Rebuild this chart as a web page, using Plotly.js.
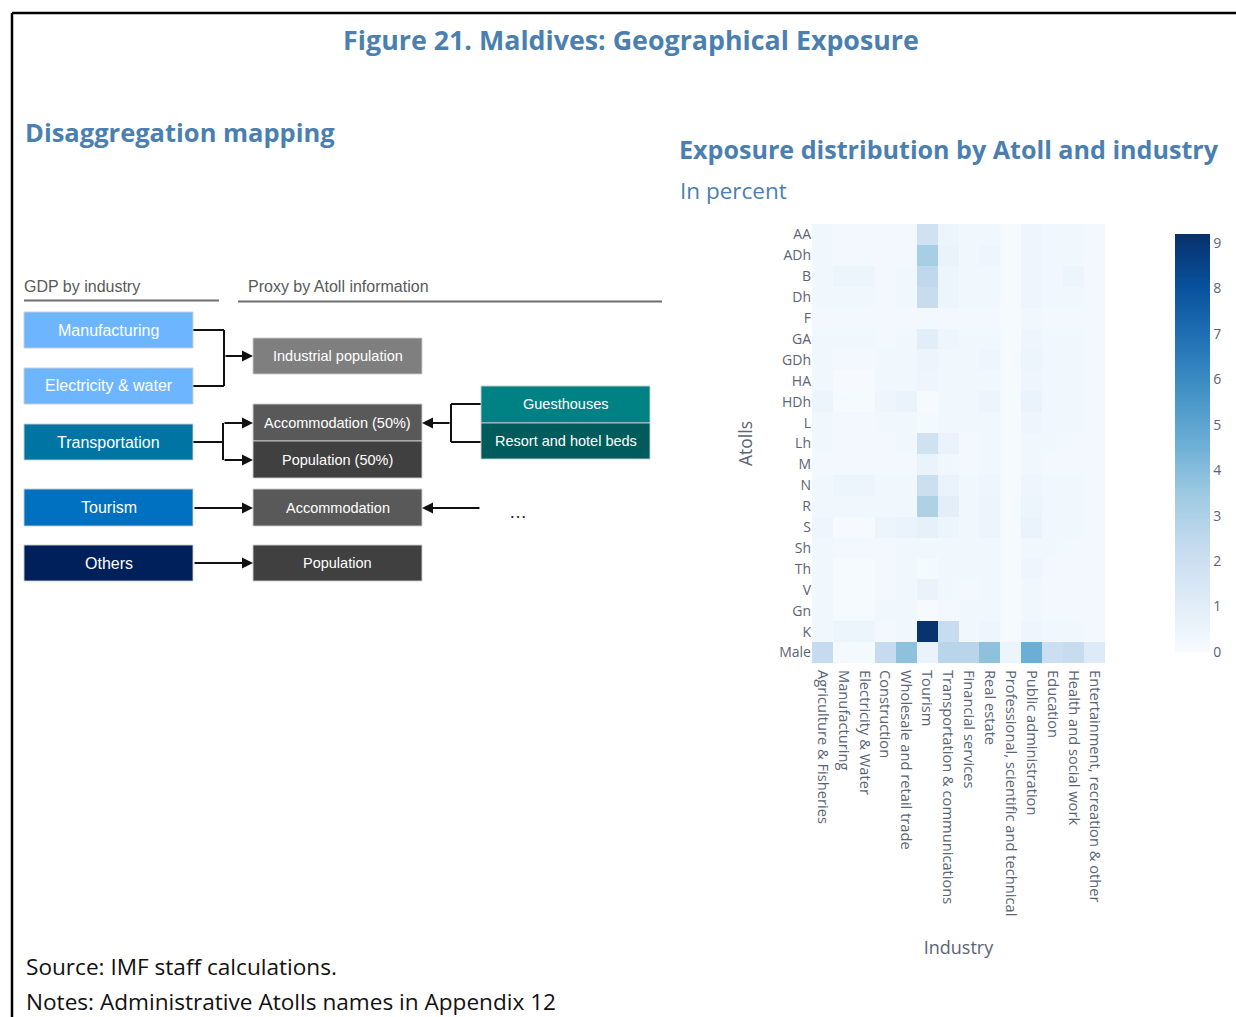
<!DOCTYPE html>
<html>
<head>
<meta charset="utf-8">
<script src="https://cdn.plot.ly/plotly-3.0.1.min.js"></script>
<style>
html,body{margin:0;padding:0;background:#fff;}
#chart{width:1236px;height:1017px;}
</style>
</head>
<body>
<div id="chart"></div>
<script>
// ---------------- DATA ----------------
const atolls = ['AA','ADh','B','Dh','F','GA','GDh','HA','HDh','L','Lh','M','N','R','S','Sh','Th','V','Gn','K','Male'];
const industries = ['Agriculture & Fisheries','Manufacturing','Electricity & Water','Construction','Wholesale and retail trade','Tourism','Transportation & communications','Financial services','Real estate','Professional, scientific and technical','Public administration','Education','Health and social work','Entertainment, recreation & other'];
// rows follow atolls, columns follow industries (percent of total exposure)
const row_AA   = [0.3,0.2,0.2,0.2,0.2,1.8,0.5,0.3,0.3,0.1,0.4,0.3,0.3,0.2];
const row_ADh  = [0.3,0.2,0.2,0.2,0.2,3.2,0.6,0.3,0.4,0.1,0.4,0.3,0.3,0.2];
const row_B    = [0.3,0.5,0.5,0.2,0.3,2.5,0.5,0.3,0.3,0.1,0.4,0.3,0.5,0.2];
const row_Dh   = [0.3,0.3,0.3,0.2,0.3,2.2,0.5,0.3,0.3,0.1,0.4,0.3,0.3,0.2];
const row_F    = [0.2,0.2,0.2,0.2,0.2,0.2,0.2,0.2,0.2,0.1,0.3,0.2,0.2,0.2];
const row_GA   = [0.3,0.3,0.3,0.2,0.3,1.0,0.4,0.3,0.3,0.1,0.4,0.3,0.3,0.2];
const row_GDh  = [0.3,0.2,0.2,0.3,0.3,0.5,0.3,0.3,0.4,0.1,0.5,0.3,0.3,0.2];
const row_HA   = [0.3,0.05,0.05,0.3,0.3,0.4,0.3,0.3,0.3,0.1,0.4,0.3,0.3,0.2];
const row_HDh  = [0.5,0.1,0.1,0.4,0.6,0.05,0.3,0.3,0.5,0.1,0.6,0.3,0.3,0.2];
const row_L    = [0.3,0.2,0.2,0.3,0.3,0.15,0.3,0.3,0.3,0.1,0.4,0.3,0.3,0.2];
const row_Lh   = [0.3,0.2,0.2,0.2,0.3,1.8,0.6,0.2,0.3,0.1,0.3,0.3,0.2,0.2];
const row_M    = [0.2,0.2,0.2,0.2,0.2,0.6,0.3,0.2,0.3,0.1,0.3,0.2,0.2,0.2];
const row_N    = [0.3,0.5,0.5,0.3,0.3,2.0,0.6,0.3,0.4,0.1,0.4,0.3,0.3,0.2];
const row_R    = [0.3,0.3,0.3,0.3,0.3,3.0,0.9,0.3,0.5,0.1,0.5,0.3,0.3,0.2];
const row_S    = [0.4,0.05,0.05,0.5,0.6,0.8,0.5,0.3,0.5,0.1,0.6,0.3,0.3,0.2];
const row_Sh   = [0.3,0.2,0.2,0.2,0.3,0.3,0.3,0.3,0.3,0.1,0.3,0.3,0.2,0.2];
const row_Th   = [0.3,0.1,0.1,0.2,0.3,0.1,0.3,0.3,0.3,0.1,0.4,0.2,0.2,0.2];
const row_V    = [0.3,0.1,0.1,0.2,0.3,0.6,0.3,0.2,0.3,0.1,0.3,0.2,0.2,0.2];
const row_Gn   = [0.3,0.1,0.1,0.3,0.3,0.05,0.2,0.3,0.3,0.1,0.3,0.2,0.2,0.2];
const row_K    = [0.3,0.5,0.5,0.2,0.3,9.1,2.2,0.3,0.4,0.1,0.4,0.3,0.3,0.2];
const row_Male = [2.3,0.15,0.15,2.3,3.8,0.6,2.7,2.7,3.8,0.5,4.6,2.0,2.2,1.2];
const colorTicks = [0,1,2,3,4,5,6,7,8,9];

// Diagram labels
const gdpLabels = ['Manufacturing','Electricity & water','Transportation','Tourism','Others'];
const proxyLabels = ['Industrial population','Accommodation (50%)','Population (50%)','Accommodation','Population'];
const sourceLabels = ['Guesthouses','Resort and hotel beds'];

// ---------------- LAYOUT HELPERS ----------------
const W = 1236, H = 1017;
const px = x => x / W;
const py = y => 1 - y / H;

const zRows = [row_AA,row_ADh,row_B,row_Dh,row_F,row_GA,row_GDh,row_HA,row_HDh,row_L,row_Lh,row_M,row_N,row_R,row_S,row_Sh,row_Th,row_V,row_Gn,row_K,row_Male];

const blues = [
  [0.000,'rgb(247,251,255)'],
  [0.125,'rgb(222,235,247)'],
  [0.250,'rgb(198,219,239)'],
  [0.375,'rgb(158,202,225)'],
  [0.500,'rgb(107,174,214)'],
  [0.625,'rgb(66,146,198)'],
  [0.750,'rgb(33,113,181)'],
  [0.875,'rgb(8,81,156)'],
  [1.000,'rgb(8,48,107)']
];

const tickColor = '#5a6474';
const heat = {
  type: 'heatmap',
  x: industries,
  y: atolls,
  z: zRows,
  zmin: 0, zmax: 9.2,
  colorscale: blues,
  hoverinfo: 'x+y+z',
  colorbar: {
    x: px(1175), xanchor: 'left',
    y: py(234), yanchor: 'top',
    len: 418 / H, lenmode: 'fraction',
    thickness: 35, thicknessmode: 'pixels',
    xpad: 0, ypad: 0,
    outlinewidth: 0,
    tickvals: colorTicks,
    tickfont: {family: 'Open Sans', size: 14, color: tickColor},
    ticks: ''
  }
};

const shapes = [];
const annotations = [];

// frame
shapes.push({type:'line', xref:'paper', yref:'paper', x0:px(12), x1:px(1236), y0:py(13), y1:py(13), line:{color:'#000', width:2.5}});
shapes.push({type:'line', xref:'paper', yref:'paper', x0:px(12), x1:px(12), y0:py(13), y1:py(1017), line:{color:'#000', width:2.5}});

function txt(t, x, y, opts) {
  annotations.push(Object.assign({
    text: t, xref: 'paper', yref: 'paper', x: px(x), y: py(y),
    showarrow: false, xanchor: 'left', yanchor: 'middle'
  }, opts));
}
function box(x0, y0, x1, y1, fill, label, size) {
  shapes.push({type:'rect', xref:'paper', yref:'paper', x0:px(x0), x1:px(x1), y0:py(y1), y1:py(y0),
    fillcolor: fill, line:{color:'rgba(205,205,205,0.9)', width:1}, layer:'above'});
  txt(label, (x0 + x1) / 2, (y0 + y1) / 2, {xanchor:'center', font:{family:'Liberation Sans', size: size || 16, color:'#ffffff'}});
}
function seg(x0, y0, x1, y1) {
  shapes.push({type:'line', xref:'paper', yref:'paper', x0:px(x0), x1:px(x1), y0:py(y0), y1:py(y1), line:{color:'#111', width:2}});
}
function arrow(xTail, yTail, xHead, yHead) {
  annotations.push({text:'', xref:'paper', yref:'paper', x:px(xHead), y:py(yHead),
    ax: xTail - xHead, ay: yTail - yHead, showarrow:true, arrowhead:2, arrowsize:1.1, arrowwidth:2,
    arrowcolor:'#111', standoff:0, startstandoff:0});
}

// Titles / headings
const headBlue = '#4a7fb0';
txt('Disaggregation mapping', 23, 132, {font:{family:'Open Sans', size:25.5, weight:700, color:headBlue}});
txt('Exposure distribution by Atoll and industry', 677, 149, {font:{family:'Open Sans', size:25.1, weight:700, color:headBlue}});
txt('In percent', 678, 190, {font:{family:'Open Sans', size:22.5, color:headBlue}});
txt('Source: IMF staff calculations.', 24, 966, {font:{family:'Open Sans', size:22.6, color:'#111'}});
txt('Notes: Administrative Atolls names in Appendix 12', 24, 1001, {font:{family:'Open Sans', size:22.6, color:'#111'}});

// Diagram headers
txt('GDP by industry', 22, 286, {font:{family:'Liberation Sans', size:16, color:'#595959'}});
txt('Proxy by Atoll information', 246, 286, {font:{family:'Liberation Sans', size:16, color:'#595959'}});
shapes.push({type:'line', xref:'paper', yref:'paper', x0:px(24), x1:px(219), y0:py(300.5), y1:py(300.5), line:{color:'#6f6f6f', width:2}});
shapes.push({type:'line', xref:'paper', yref:'paper', x0:px(238), x1:px(662), y0:py(301.5), y1:py(301.5), line:{color:'#6f6f6f', width:2}});

// connectors (drawn before boxes)
seg(193, 330, 224, 330); seg(193, 386, 224, 386); seg(224, 330, 224, 386);
arrow(224, 356, 253, 356);
seg(193, 442, 223, 442); seg(223, 423, 223, 460);
arrow(223, 423, 253, 423); arrow(223, 460, 253, 460);
seg(451, 404, 481, 404); seg(451, 442, 481, 442); seg(451, 404, 451, 442);
arrow(451, 423, 422, 423);
arrow(193, 508, 253, 508);
arrow(481, 508, 422, 508);
arrow(193, 563, 253, 563);

// GDP boxes
box(24, 312, 193, 348, '#6db6ff', gdpLabels[0]);
box(24, 368, 193, 404, '#6db6ff', gdpLabels[1]);
box(24, 424, 193, 460, '#0075a4', gdpLabels[2]);
box(24, 489, 193, 526, '#0070c0', gdpLabels[3]);
box(24, 545, 193, 581, '#00205c', gdpLabels[4]);
// Proxy boxes
box(253, 338, 422, 374, '#7f7f7f', proxyLabels[0], 14.5);
box(253, 404, 422, 441, '#595959', proxyLabels[1], 14.5);
box(253, 441, 422, 478, '#404040', proxyLabels[2], 14.5);
box(253, 489, 422, 526, '#595959', proxyLabels[3], 14.5);
box(253, 545, 422, 581, '#404040', proxyLabels[4], 14.5);
// Source boxes
box(481, 386, 650, 423, '#008284', sourceLabels[0], 14.5);
box(481, 423, 650, 459, '#005c5c', sourceLabels[1], 14.5);
txt('…', 518, 512, {xanchor:'center', font:{family:'Liberation Sans', size:18, color:'#222'}});

const layout = {
  width: W, height: H,
  margin: {l:0, r:0, t:0, b:0},
  paper_bgcolor: '#ffffff',
  plot_bgcolor: '#ffffff',
  title: {
    text: 'Figure 21. Maldives: Geographical Exposure',
    x: px(631), xanchor: 'center', xref: 'paper',
    y: py(41), yanchor: 'middle', yref: 'container',
    font: {family: 'Open Sans', size: 26.8, weight: 700, color: headBlue}
  },
  xaxis: {
    domain: [px(812), px(1105)],
    anchor: 'y',
    tickangle: 90,
    tickfont: {family: 'Open Sans', size: 14.7, color: tickColor},
    ticklabelstandoff: 6,
    showgrid: false, zeroline: false, ticks: '',
    automargin: false,
    title: {text: 'Industry', font: {family: 'Open Sans', size: 18, color: tickColor}, standoff: 25}
  },
  yaxis: {
    domain: [py(663), py(224)],
    anchor: 'x',
    autorange: 'reversed',
    tickfont: {family: 'Open Sans', size: 14, color: tickColor},
    showgrid: false, zeroline: false, ticks: '',
    automargin: false,
    title: {text: 'Atolls', font: {family: 'Open Sans', size: 17.5, color: tickColor}, standoff: 22}
  },
  shapes: shapes,
  annotations: annotations,
  showlegend: false
};

Plotly.newPlot('chart', [heat], layout, {displayModeBar: false, staticPlot: true});
</script>
</body>
</html>
